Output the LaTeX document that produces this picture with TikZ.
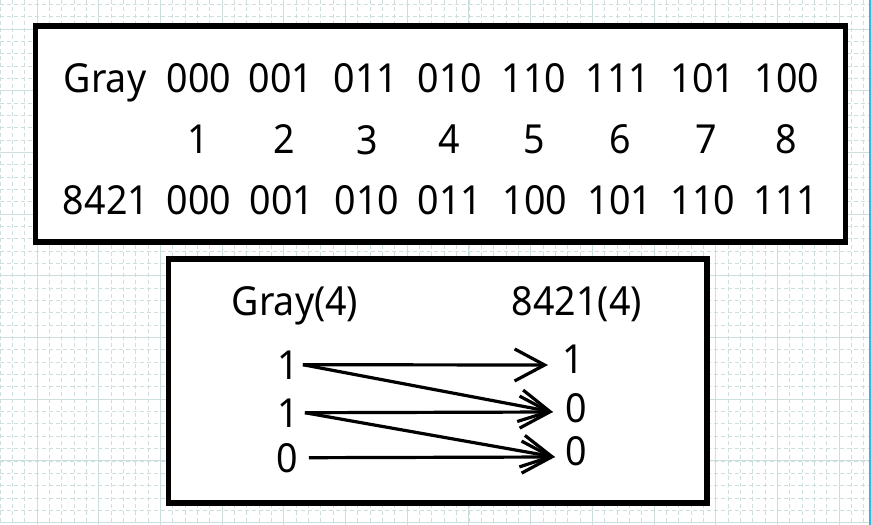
\documentclass[tikz,border=0pt]{standalone}
\usepackage{fontspec}
\setmainfont{Noto Sans}[FakeStretch=0.94]
\usetikzlibrary{arrows.meta}
\definecolor{gridc}{RGB}{205,222,222}
\definecolor{edgeblue}{RGB}{45,185,225}
\begin{document}
\begin{tikzpicture}[x=1pt,y=-1pt,
  lbl/.style={font=\fontsize{40}{42}\selectfont, anchor=base, inner sep=3pt},
  frame/.style={draw=black, line width=5.5pt, fill=white},
  conn/.style={line width=3.2pt, -{Straight Barb[length=30pt,width=32pt]}},
  minorgrid/.style={gridc, line width=0.8pt, dash pattern=on 4pt off 3pt},
  majorgrid/.style={gridc, line width=1pt}]
\useasboundingbox (0,0) rectangle (871,525);
\fill[white] (0,0) rectangle (871,525);
% background grid
\foreach \i in {-3,...,67} { \draw[minorgrid] ({37+12.34*\i},0) -- ({37+12.34*\i},525); }
\foreach \j in {-2,...,40} { \draw[minorgrid] (0,{29+12.34*\j}) -- (871,{29+12.34*\j}); }
\foreach \k in {0,...,13} { \draw[majorgrid] ({37+61.7*\k},0) -- ({37+61.7*\k},525); }
\foreach \k in {0,...,8} { \draw[majorgrid] (0,{29+61.7*\k}) -- (871,{29+61.7*\k}); }
\draw[edgeblue, line width=2pt] (870,0) -- (870,525);
% frames
\draw[frame] (35.5,26) rectangle (845.5,242);
\draw[frame] (168.5,259) rectangle (707,503);
% table rows
\node[lbl] (gl) at (105,92) {Gray};
\node[lbl] (g1) at (199,92) {000};
\node[lbl] (g2) at (281,92) {001};
\node[lbl] (g3) at (366,92) {011};
\node[lbl] (g4) at (450,92) {010};
\node[lbl] (g5) at (534,92) {110};
\node[lbl] (g6) at (618,92) {111};
\node[lbl] (g7) at (703,92) {101};
\node[lbl] (g8) at (787,92) {100};
\node[lbl] (n1) at (198,153) {1};
\node[lbl] (n2) at (284,153) {2};
\node[lbl] (n3) at (367,154) {3};
\node[lbl] (n4) at (449,153) {4};
\node[lbl] (n5) at (534,153) {5};
\node[lbl] (n6) at (620,153) {6};
\node[lbl] (n7) at (706,153) {7};
\node[lbl] (n8) at (786,153) {8};
\node[lbl] (bl) at (106,214) {8421};
\node[lbl] (b1) at (199,214) {000};
\node[lbl] (b2) at (282,214) {001};
\node[lbl] (b3) at (367,214) {010};
\node[lbl] (b4) at (450,214) {011};
\node[lbl] (b5) at (535,214) {100};
\node[lbl] (b6) at (620,214) {101};
\node[lbl] (b7) at (703,214) {110};
\node[lbl] (b8) at (786,214) {111};
% conversion box
\node[lbl] (hg) at (295,315) {Gray(4)};
\node[lbl] (hb) at (577,315) {8421(4)};
\node[lbl] (l1) at (288,379) {1};
\node[lbl] (l2) at (288,427) {1};
\node[lbl] (l3) at (287,472) {0};
\node[lbl] (r1) at (573,373) {1};
\node[lbl] (r2) at (576,422) {0};
\node[lbl] (r3) at (576,465) {0};
\coordinate (t1) at (548,365);
\coordinate (t2) at (553,412);
\coordinate (t3) at (555,457);
\draw[conn] ([xshift=1pt]l1.east) -- (t1);
\draw[conn] ([xshift=1pt]l1.east) -- (t2);
\draw[conn] ([xshift=3pt]l2.east) -- (t2);
\draw[conn] ([xshift=3pt]l2.east) -- (t3);
\draw[conn] ([xshift=8pt]l3.east) -- (t3);
\end{tikzpicture}
\end{document}
